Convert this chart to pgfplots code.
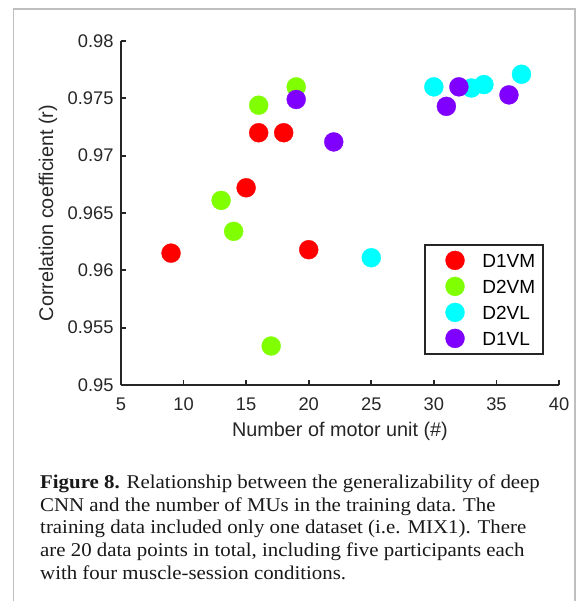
\documentclass[border=0pt]{standalone}
\usepackage{fontspec}
\setmainfont{Liberation Sans}
\newfontfamily\capfont[FakeStretch=1.07]{Liberation Serif}
\usepackage{pgfplots}
\pgfplotsset{compat=1.18}
\definecolor{axgray}{HTML}{262626}
\definecolor{cRed}{rgb}{1,0,0}
\definecolor{cGreen}{rgb}{0.5,1,0}
\definecolor{cCyan}{rgb}{0,1,1}
\definecolor{cPurple}{rgb}{0.5,0,1}
\begin{document}
\begin{tikzpicture}
\path[use as bounding box] (0bp,0bp) rectangle (581bp,601bp);
\draw[black!25, line width=1.2bp] (13.5bp,-2bp) -- (13.5bp,592bp) -- (575bp,592bp) -- (575bp,-2bp);
\begin{axis}[
  at={(121bp,216bp)}, anchor=south west,
  scale only axis, width=438bp, height=344bp,
  xmin=5, xmax=40, ymin=0.95, ymax=0.98,
  axis lines*=left,
  axis line style={-, line width=1.8bp, draw=axgray},
  every tick/.style={axgray, line width=1.8bp},
  tick align=inside,
  major tick length=5bp,
  xtick={5,10,15,20,25,30,35,40},
  ytick={0.95,0.955,0.96,0.965,0.97,0.975,0.98},
  scaled y ticks=false,
  yticklabel style={/pgf/number format/fixed, /pgf/number format/precision=3},
  /pgf/number format/assume math mode=true,
  tick label style={font=\fontsize{18.3bp}{21bp}\selectfont, text=axgray},
  xticklabel style={yshift=-9bp},
  yticklabel style={xshift=-4bp},
  xlabel={Number of motor unit (\#)},
  ylabel={Correlation coefficient (r)},
  label style={font=\fontsize{19.8bp}{23bp}\selectfont, text=axgray},
  xlabel style={at={(axis description cs:0.5,-0.0990)}, anchor=north},
  ylabel style={at={(axis description cs:-0.1667,0.5)}, anchor=center},
  clip=false,
  only marks,
  legend cell align=left,
  legend image code/.code={\path[draw=none,fill=none] (0bp,0bp) -- (31.4bp,0bp); \draw[#1] plot coordinates {(21.7bp,0bp)};},
  legend style={at={(rel axis cs:0.9658,0.4099)}, anchor=north east,
    draw=axgray, line width=1.8bp, fill=white,
    inner xsep=8bp, inner ysep=6bp,
    font=\fontsize{19bp}{22bp}\selectfont,
    nodes={inner sep=0pt, text height=13.6bp, text depth=0bp},
    row sep=7bp, column sep=17.6bp},
]
\addplot[mark=*, mark size=9.5bp, color=cRed, line width=0.3bp] coordinates {(9,0.9615) (16,0.9720) (18,0.9720) (15,0.9672) (20,0.9618)};
\addlegendentry{D1VM}
\addplot[mark=*, mark size=9.5bp, color=cGreen, line width=0.3bp] coordinates {(19,0.9760) (16,0.9744) (13,0.9661) (14,0.9634) (17,0.9534)};
\addlegendentry{D2VM}
\addplot[mark=*, mark size=9.5bp, color=cCyan, line width=0.3bp] coordinates {(30,0.9760) (33,0.9759) (34,0.9762) (37,0.9771) (25,0.9611)};
\addlegendentry{D2VL}
\addplot[mark=*, mark size=9.5bp, color=cPurple, line width=0.3bp] coordinates {(19,0.9749) (22,0.9712) (31,0.9743) (32,0.9760) (36,0.9753)};
\addlegendentry{D1VL}
\end{axis}
\begin{scope}[every node/.style={anchor=base west, inner sep=0pt, font=\capfont\fontsize{19.5bp}{22bp}\selectfont, text=black!90}]
\node at (40bp,112bp) {\textbf{Figure 8.} Relationship between the generalizability of deep};
\node at (40bp,89.5bp) {CNN and the number of MUs in the training data. The};
\node at (40bp,67bp) {training data included only one dataset (i.e. MIX1). There};
\node at (40bp,44.5bp) {are 20 data points in total, including five participants each};
\node at (40bp,22bp) {with four muscle-session conditions.};
\end{scope}
\end{tikzpicture}
\end{document}
